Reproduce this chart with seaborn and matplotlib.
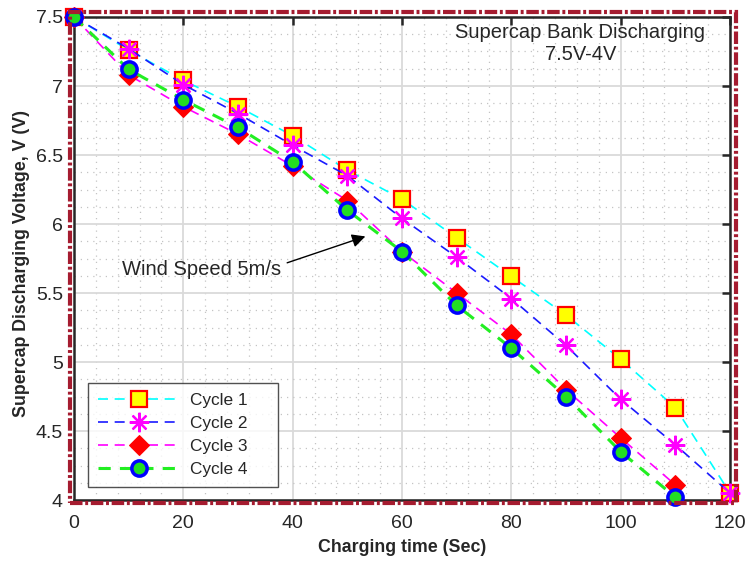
import numpy as np
import pandas as pd
import seaborn as sns
import matplotlib.pyplot as plt
from matplotlib.patches import Rectangle
from matplotlib.ticker import MultipleLocator, FormatStrFormatter

# charging time (s) and voltages for each discharge cycle
time_long = [0, 10, 20, 30, 40, 50, 60, 70, 80, 90, 100, 110, 120]
time_short = [0, 10, 20, 30, 40, 50, 60, 70, 80, 90, 100, 110]
cycle1 = [7.5, 7.26, 7.04, 6.85, 6.64, 6.39, 6.18, 5.90, 5.62, 5.34, 5.02, 4.67, 4.05]
cycle2 = [7.5, 7.27, 7.01, 6.80, 6.57, 6.35, 6.04, 5.76, 5.46, 5.12, 4.73, 4.40, 4.05]
cycle3 = [7.5, 7.08, 6.85, 6.65, 6.42, 6.17, 5.80, 5.50, 5.20, 4.80, 4.45, 4.11]
cycle4 = [7.5, 7.12, 6.90, 6.70, 6.45, 6.10, 5.80, 5.41, 5.10, 4.75, 4.35, 4.02]

sns.set_style("white")
plt.rcParams['font.family'] = ['Liberation Sans', 'DejaVu Sans']

fig = plt.figure(figsize=(7.46, 5.61), dpi=100)
ax = fig.add_axes([0.0992, 0.1087, 0.8794, 0.861])

dash = (0, (6, 4))
sns.lineplot(x=time_long, y=cycle1, ax=ax, color='cyan', lw=1.2,
             linestyle=dash, marker='s', markersize=11,
             markerfacecolor='yellow', markeredgecolor='red', markeredgewidth=1.6,
             label='Cycle 1', clip_on=False, zorder=3)
sns.lineplot(x=time_long, y=cycle2, ax=ax, color='#1a1aff', lw=1.2,
             linestyle=dash, marker=(8, 2, 0), markersize=14,
             markeredgecolor='magenta', markerfacecolor='magenta', markeredgewidth=1.6,
             label='Cycle 2', clip_on=False, zorder=3)
sns.lineplot(x=time_short, y=cycle3, ax=ax, color='magenta', lw=1.2,
             linestyle=dash, marker='D', markersize=10,
             markerfacecolor='red', markeredgecolor='red',
             label='Cycle 3', clip_on=False, zorder=3)
sns.lineplot(x=time_short, y=cycle4, ax=ax, color='#22ee22', lw=2.2,
             linestyle=(0, (4, 3)), marker='o', markersize=11,
             markerfacecolor='#22dd22', markeredgecolor='blue', markeredgewidth=2.5,
             label='Cycle 4', clip_on=False, zorder=3)

ax.set_xlim(0, 120)
ax.set_ylim(4, 7.5)
ax.xaxis.set_major_locator(MultipleLocator(20))
ax.xaxis.set_minor_locator(MultipleLocator(4))
ax.yaxis.set_major_locator(MultipleLocator(0.5))
ax.yaxis.set_minor_locator(MultipleLocator(0.125))
ax.yaxis.set_major_formatter(FormatStrFormatter('%g'))
ax.grid(True, which='major', color='#dadada', lw=1.3)
ax.grid(True, which='minor', color='#c4c4c4', lw=0.9, linestyle=(0, (1, 4)))
ax.set_axisbelow(True)
ax.tick_params(which='major', direction='in', length=6, width=1.8,
               top=True, right=True, labelsize=14, colors='#262626')
ax.tick_params(axis='y', which='major', pad=8)
ax.tick_params(axis='x', which='major', pad=11)
ax.tick_params(which='minor', length=0)
for s in ax.spines.values():
    s.set_color('#262626')
    s.set_linewidth(1.8)

ax.set_xlabel('Charging time (Sec)', fontsize=12.8, fontweight='bold')
ax.set_ylabel('Supercap Discharging Voltage, V (V)', fontsize=12.8, fontweight='bold')
ax.xaxis.set_label_coords(0.5, -0.081)
ax.yaxis.set_label_coords(-0.067, 0.49)

ax.text(92.6, 7.46, 'Supercap Bank Discharging\n7.5V-4V', ha='center', va='top',
        fontsize=14.5, linespacing=1.25)
ax.annotate('Wind Speed 5m/s', xy=(53.3, 5.91), xytext=(8.8, 5.67),
            fontsize=14.5, va='center',
            arrowprops=dict(arrowstyle='-|>', color='black', lw=1, mutation_scale=20,
                            shrinkA=2, shrinkB=0, relpos=(1.0, 0.75)))

ax.legend(loc='lower left', bbox_to_anchor=(0.021, 0.027, 0.29, 0.2), mode='expand',
          borderaxespad=0, fontsize=12.4, frameon=True, fancybox=False,
          edgecolor='#262626', borderpad=0.6, labelspacing=0.45,
          handlelength=4.8, handletextpad=0.55)
leg = ax.get_legend()
leg.get_frame().set_linewidth(1)
leg.set_zorder(5)

fig.patches.append(Rectangle((0.0932, 0.1034), 0.894, 0.876, transform=fig.transFigure,
                             fill=False, edgecolor='#a51c30', lw=3,
                             linestyle=(0, (3, 0.65, 0.7, 0.65)), zorder=10))

fig.savefig('out.png', dpi=100)
